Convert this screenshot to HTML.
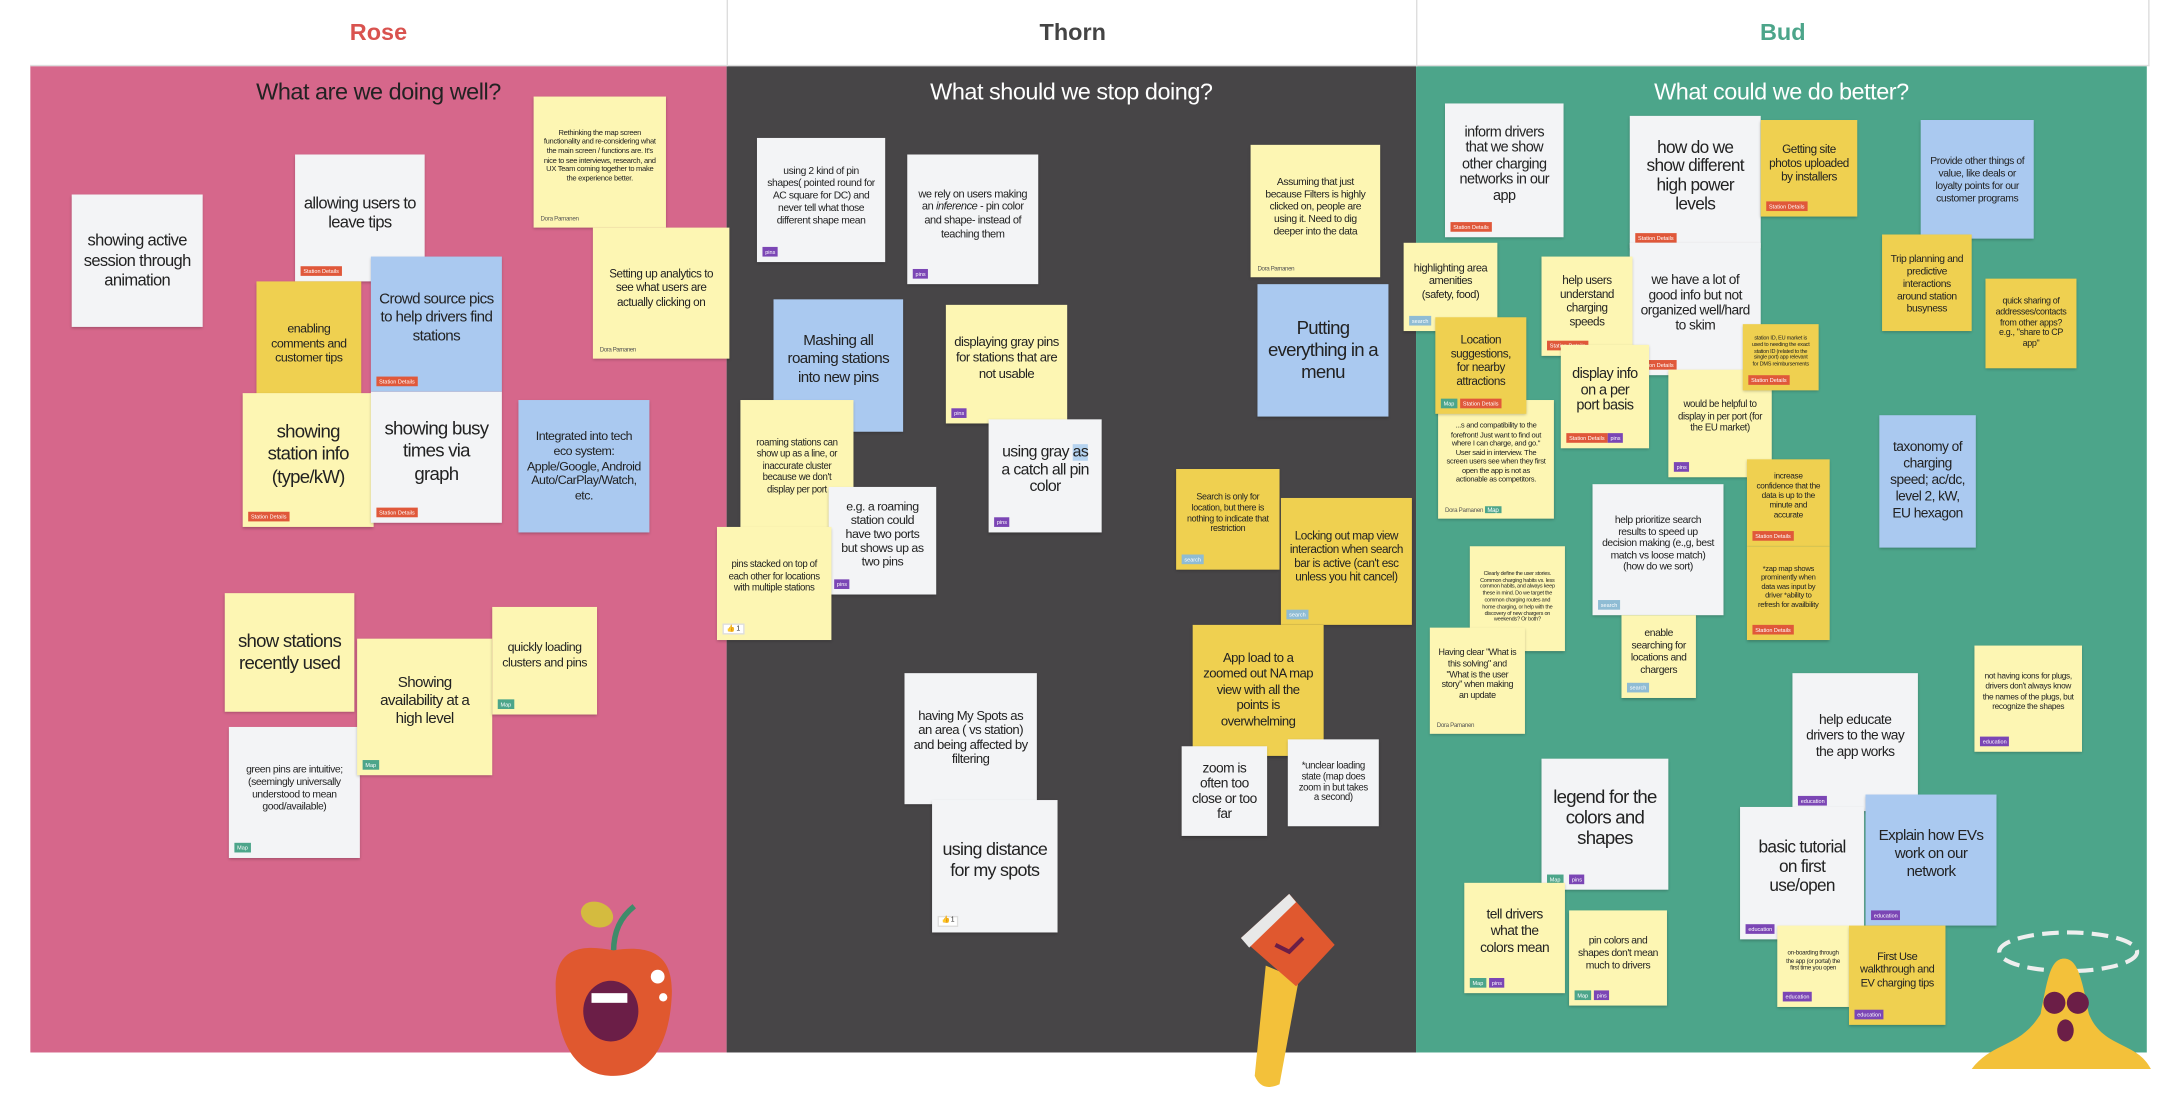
<!DOCTYPE html>
<html><head><meta charset="utf-8"><style>
html,body{margin:0;padding:0;background:#fff;width:2162px;height:1109px;overflow:hidden}
#s{position:absolute;left:0;top:0;width:1568px;height:804px;transform:scale(1.3788,1.3794);transform-origin:0 0;font-family:"Liberation Sans",sans-serif}
.col{position:absolute;top:47px;height:716px}
.hd{position:absolute;top:0;height:47px;background:#fff;border-bottom:1px solid #ddd;font:bold 17px "Liberation Sans",sans-serif;display:flex;align-items:center;justify-content:center}
.sub{position:absolute;top:57px;font:17px "Liberation Sans",sans-serif;text-align:center;letter-spacing:-0.02em}
.n{position:absolute;box-sizing:border-box;display:flex;align-items:center;justify-content:center;text-align:center;color:#222;line-height:1.2;padding:4px 6px 12px;box-shadow:0 1px 2px rgba(0,0,0,.25);letter-spacing:-0.04em;overflow:hidden}
.w{background:#f3f4f6}.y{background:#fdf6b3}.d{background:#efd050}.b{background:#aac9f0}
.t{position:absolute;left:4px;bottom:4px;font-size:4px;color:#fff;padding:1px 2px;line-height:1.3;letter-spacing:0}
.sd{background:#e0583a}.pn{background:#7b46b5}.mp{background:#4ca58a}.se{background:#8fbcd4}.ed{background:#7b46b5}
.au{position:absolute;left:5px;bottom:4px;font-size:4.5px;color:#555}
.th{position:absolute;left:4px;bottom:4px;font-size:5px;background:#fff;border:1px solid #ddd;padding:0 2px}
</style></head><body><div id="s">
<div class="col" style="left:22px;width:505px;background:#d6678b"></div>
<div class="col" style="left:527px;width:500px;background:#474547"></div>
<div class="col" style="left:1027px;width:530px;background:#4ca58a"></div>
<div class="hd" style="left:22px;width:505px;color:#d9534f">Rose</div>
<div class="hd" style="left:527px;width:500px;color:#444;border-left:1px solid #ddd">Thorn</div>
<div class="hd" style="left:1027px;width:530px;color:#4ca58a;border-left:1px solid #ddd;border-right:1px solid #ddd">Bud</div>
<div class="sub" style="left:22px;width:505px;color:#222">What are we doing well?</div>
<div class="sub" style="left:527px;width:500px;color:#fff">What should we stop doing?</div>
<div class="sub" style="left:1027px;width:530px;color:#fff">What could we do better?</div>

<!-- Rose -->
<div class="n w" style="left:52px;top:141px;width:95px;height:96px;font-size:12px;padding-bottom:4px">showing active session through animation</div>
<div class="n w" style="left:214px;top:112px;width:94px;height:92px;font-size:12px">allowing users to leave tips<span class="t sd">Station Details</span></div>
<div class="n y" style="left:387px;top:70px;width:96px;height:95px;font-size:5.5px">Rethinking the map screen functionality and re-considering what the main screen / functions are. It's nice to see interviews, research, and UX Team coming together to make the experience better.<span class="au">Dora Parnanen</span></div>
<div class="n y" style="left:430px;top:165px;width:99px;height:95px;font-size:8.5px">Setting up analytics to see what users are actually clicking on<span class="au">Dora Parnanen</span></div>
<div class="n d" style="left:186px;top:204px;width:76px;height:98px;font-size:9px">enabling comments and customer tips<span class="t sd">Station Details</span></div>
<div class="n b" style="left:269px;top:186px;width:95px;height:98px;font-size:11px">Crowd source pics to help drivers find stations<span class="t sd">Station Details</span></div>
<div class="n y" style="left:176px;top:285px;width:95px;height:97px;font-size:13.5px">showing station info (type/kW)<span class="t sd">Station Details</span></div>
<div class="n w" style="left:269px;top:284px;width:95px;height:95px;font-size:13.5px">showing busy times via graph<span class="t sd">Station Details</span></div>
<div class="n b" style="left:376px;top:290px;width:95px;height:96px;font-size:9px;padding-bottom:4px">Integrated into tech eco system: Apple/Google, Android Auto/CarPlay/Watch, etc.</div>
<div class="n y" style="left:163px;top:430px;width:94px;height:86px;font-size:13.5px;padding-bottom:4px">show stations recently used</div>
<div class="n w" style="left:166px;top:527px;width:95px;height:95px;font-size:7.5px">green pins are intuitive; (seemingly universally understood to mean good/available)<span class="t mp">Map</span></div>
<div class="n y" style="left:259px;top:463px;width:98px;height:99px;font-size:11px">Showing availability at a high level<span class="t mp">Map</span></div>
<div class="n y" style="left:357px;top:440px;width:76px;height:78px;font-size:9px">quickly loading clusters and pins<span class="t mp">Map</span></div>

<!-- Thorn -->
<div class="n w" style="left:549px;top:100px;width:93px;height:90px;font-size:7.5px">using 2 kind of pin shapes( pointed round for AC square for DC) and never tell what those different shape mean<span class="t pn">pins</span></div>
<div class="n w" style="left:658px;top:112px;width:95px;height:94px;font-size:8px"><span>we rely on users making an <i>inference</i> - pin color and shape- instead of teaching them</span><span class="t pn">pins</span></div>
<div class="n b" style="left:561px;top:217px;width:94px;height:96px;font-size:11px">Mashing all roaming stations into new pins</div>
<div class="n y" style="left:686px;top:221px;width:88px;height:86px;font-size:9.5px">displaying gray pins for stations that are not usable<span class="t pn">pins</span></div>
<div class="n y" style="left:537px;top:290px;width:82px;height:100px;font-size:7px;padding-bottom:6px">roaming stations can show up as a line, or inaccurate cluster because we don't display per port</div>
<div class="n w" style="left:717px;top:304px;width:82px;height:82px;font-size:11.5px;line-height:1.1"><span>using gray <span style="background:#b5d3f0">as</span> a catch all pin color</span><span class="t pn">pins</span></div>
<div class="n w" style="left:601px;top:353px;width:78px;height:78px;font-size:9px;line-height:1.1">e.g. a roaming station could have two ports but shows up as two pins<span class="t pn">pins</span></div>
<div class="n y" style="left:520px;top:382px;width:83px;height:82px;font-size:7px">pins stacked on top of each other for locations with multiple stations<span class="th">👍 1</span></div>
<div class="n y" style="left:907px;top:105px;width:94px;height:96px;font-size:7.5px">Assuming that just because Filters is highly clicked on, people are using it. Need to dig deeper into the data<span class="au">Dora Parnanen</span></div>
<div class="n b" style="left:912px;top:206px;width:95px;height:96px;font-size:13.5px;padding-bottom:4px">Putting everything in a menu</div>
<div class="n d" style="left:853px;top:340px;width:75px;height:73px;font-size:6.5px">Search is only for location, but there is nothing to indicate that restriction<span class="t se">search</span></div>
<div class="n d" style="left:929px;top:361px;width:95px;height:92px;font-size:8.5px">Locking out map view interaction when search bar is active (can't esc unless you hit cancel)<span class="t se">search</span></div>
<div class="n d" style="left:865px;top:453px;width:95px;height:95px;font-size:9.5px;padding-bottom:4px">App load to a zoomed out NA map view with all the points is overwhelming</div>
<div class="n w" style="left:857px;top:541px;width:62px;height:65px;font-size:10px;line-height:1.1;padding-bottom:4px">zoom is often too close or too far</div>
<div class="n w" style="left:934px;top:536px;width:66px;height:63px;font-size:7px;line-height:1.1;padding-bottom:4px">*unclear loading state (map does zoom in but takes a second)</div>
<div class="n w" style="left:656px;top:488px;width:96px;height:95px;font-size:9.5px;line-height:1.1;padding-bottom:4px">having My Spots as an area ( vs station) and being affected by filtering</div>
<div class="n w" style="left:676px;top:580px;width:91px;height:96px;font-size:13px;line-height:1.15">using distance for my spots<span class="th">👍 1</span></div>

<!-- Bud -->
<div class="n w" style="left:1048px;top:75px;width:86px;height:97px;font-size:10.5px;line-height:1.1">inform drivers that we show other charging networks in our app<span class="t sd">Station Details</span></div>
<div class="n w" style="left:1182px;top:84px;width:95px;height:96px;font-size:12.5px;line-height:1.1">how do we show different high power levels<span class="t sd">Station Details</span></div>
<div class="n w" style="left:1182px;top:176px;width:95px;height:96px;font-size:10px;line-height:1.1">we have a lot of good info but not organized well/hard to skim<span class="t sd">Station Details</span></div>
<div class="n d" style="left:1277px;top:87px;width:70px;height:70px;font-size:8.5px">Getting site photos uploaded by installers<span class="t sd">Station Details</span></div>
<div class="n b" style="left:1393px;top:87px;width:82px;height:86px;font-size:7.5px;padding-bottom:4px">Provide other things of value, like deals or loyalty points for our customer programs</div>
<div class="n y" style="left:1018px;top:176px;width:68px;height:64px;font-size:8px">highlighting area amenities (safety, food)<span class="t se">search</span></div>
<div class="n y" style="left:1118px;top:186px;width:66px;height:72px;font-size:8.5px">help users understand charging speeds<span class="t sd">Station Details</span></div>
<div class="n y" style="left:1043px;top:290px;width:84px;height:86px;font-size:5.5px">...s and compatibility to the forefront! Just want to find out where I can charge, and go." User said in interview. The screen users see when they first open the app is not as actionable as competitors.<span class="au">Dora Parnanen <span style="background:#4ca58a;color:#fff;padding:0 2px">Map</span></span></div>
<div class="n d" style="left:1041px;top:230px;width:66px;height:70px;font-size:8.5px">Location suggestions, for nearby attractions<span class="t mp">Map</span><span class="t sd" style="left:18px">Station Details</span></div>
<div class="n y" style="left:1132px;top:250px;width:64px;height:75px;font-size:10.5px;line-height:1.1">display info on a per port basis<span class="t sd">Station Details</span><span class="t pn" style="left:34px">pins</span></div>
<div class="n y" style="left:1210px;top:268px;width:75px;height:78px;font-size:7px">would be helpful to display in per port (for the EU market)<span class="t pn">pins</span></div>
<div class="n d" style="left:1264px;top:235px;width:55px;height:48px;font-size:4px">station ID, EU market is used to needing the exact station ID (related to the single port) app relevant for DMS reimbursements<span class="t sd">Station Details</span></div>
<div class="n d" style="left:1365px;top:170px;width:65px;height:70px;font-size:7.5px;padding-bottom:4px">Trip planning and predictive interactions around station busyness</div>
<div class="n d" style="left:1440px;top:202px;width:66px;height:65px;font-size:6.5px;padding-bottom:4px">quick sharing of addresses/contacts from other apps? e.g., "share to CP app"</div>
<div class="n b" style="left:1363px;top:301px;width:70px;height:96px;font-size:10px;padding-bottom:4px">taxonomy of charging speed; ac/dc, level 2, kW, EU hexagon</div>
<div class="n d" style="left:1267px;top:333px;width:60px;height:63px;font-size:6px">increase confidence that the data is up to the minute and accurate<span class="t sd">Station Details</span></div>
<div class="n d" style="left:1267px;top:396px;width:60px;height:68px;font-size:5.5px">*zap map shows prominently when data was input by driver *ability to refresh for availbility<span class="t sd">Station Details</span></div>
<div class="n w" style="left:1155px;top:351px;width:95px;height:95px;font-size:7.5px;line-height:1.15">help prioritize search results to speed up decision making (e.,g, best match vs loose match) (how do we sort)<span class="t se">search</span></div>
<div class="n y" style="left:1176px;top:446px;width:54px;height:60px;font-size:7.5px">enable searching for locations and chargers<span class="t se">search</span></div>
<div class="n y" style="left:1066px;top:396px;width:69px;height:76px;font-size:4px;padding-bottom:6px">Clearly define the user stories. Common charging habits vs. less common habits, and always keep these in mind. Do we target the common charging routes and home charging, or help with the discovery of new chargers on weekends? Or both?</div>
<div class="n y" style="left:1037px;top:455px;width:69px;height:77px;font-size:6.5px">Having clear "What is this solving" and "What is the user story" when making an update<span class="au">Dora Parnanen</span></div>
<div class="n y" style="left:1432px;top:468px;width:78px;height:77px;font-size:6px">not having icons for plugs, drivers don't always know the names of the plugs, but recognize the shapes<span class="t ed">education</span></div>
<div class="n w" style="left:1300px;top:488px;width:91px;height:100px;font-size:10px;line-height:1.15">help educate drivers to the way the app works<span class="t ed">education</span></div>
<div class="n w" style="left:1118px;top:550px;width:92px;height:95px;font-size:13.5px;line-height:1.1">legend for the colors and shapes<span class="t mp">Map</span><span class="t pn" style="left:20px">pins</span></div>
<div class="n y" style="left:1062px;top:640px;width:73px;height:80px;font-size:10px">tell drivers what the colors mean<span class="t mp">Map</span><span class="t pn" style="left:18px">pins</span></div>
<div class="n y" style="left:1138px;top:660px;width:71px;height:69px;font-size:7.5px">pin colors and shapes don't mean much to drivers<span class="t mp">Map</span><span class="t pn" style="left:18px">pins</span></div>
<div class="n w" style="left:1262px;top:585px;width:90px;height:96px;font-size:12.5px;line-height:1.1">basic tutorial on first use/open<span class="t ed">education</span></div>
<div class="n b" style="left:1353px;top:576px;width:95px;height:95px;font-size:11px">Explain how EVs work on our network<span class="t ed">education</span></div>
<div class="n y" style="left:1289px;top:671px;width:52px;height:59px;font-size:4.5px">on-boarding through the app (or portal) the first time you open<span class="t ed">education</span></div>
<div class="n d" style="left:1341px;top:671px;width:70px;height:72px;font-size:8px">First Use walkthrough and EV charging tips<span class="t ed">education</span></div>

<!-- apple -->
<svg style="position:absolute;left:395px;top:645px" width="100" height="140" viewBox="0 0 100 140">
<ellipse cx="38" cy="18" rx="12" ry="9" fill="#d4bb3f" transform="rotate(20 38 18)"/>
<path d="M50 45 C50 30 55 20 65 12" stroke="#3f8b6a" stroke-width="4" fill="none"/>
<path d="M8 70 C8 40 30 40 50 44 C75 40 95 45 92 80 C90 110 78 135 50 135 C22 135 8 110 8 70Z" fill="#e0582f"/>
<ellipse cx="48" cy="88" rx="20" ry="22" fill="#6b1e47"/>
<rect x="34" y="75" width="26" height="7" fill="#fff"/>
<circle cx="82" cy="63" r="5" fill="#fff"/><circle cx="86" cy="78" r="3" fill="#fff"/>
</svg>
<!-- axe -->
<svg style="position:absolute;left:880px;top:640px" width="110" height="160" viewBox="0 0 110 160">
<path d="M38 60 L30 140 Q35 152 48 146 L62 70Z" fill="#f3c13a"/>
<path d="M20 40 L55 8 L88 45 L60 75 Z" fill="#e0582f"/>
<path d="M20 40 L55 8 L60 14 L26 47Z" fill="#e8e8e8"/>
<path d="M45 45 L55 50 L65 40" stroke="#6b1e47" stroke-width="3" fill="none"/>
</svg>
<!-- banana -->
<svg style="position:absolute;left:1425px;top:665px" width="140" height="120" viewBox="0 0 140 120">
<ellipse cx="75" cy="25" rx="50" ry="14" fill="none" stroke="#eee" stroke-width="3" stroke-dasharray="12 6"/>
<path d="M5 110 C20 90 40 95 55 70 C60 45 62 30 72 30 C82 30 85 45 90 70 C100 95 125 90 135 110Z" fill="#f3c13a"/>
<circle cx="65" cy="62" r="8" fill="#6b1e47"/><circle cx="82" cy="62" r="8" fill="#6b1e47"/>
<ellipse cx="73" cy="82" rx="6" ry="8" fill="#6b1e47"/>
</svg>
</div></body></html>
